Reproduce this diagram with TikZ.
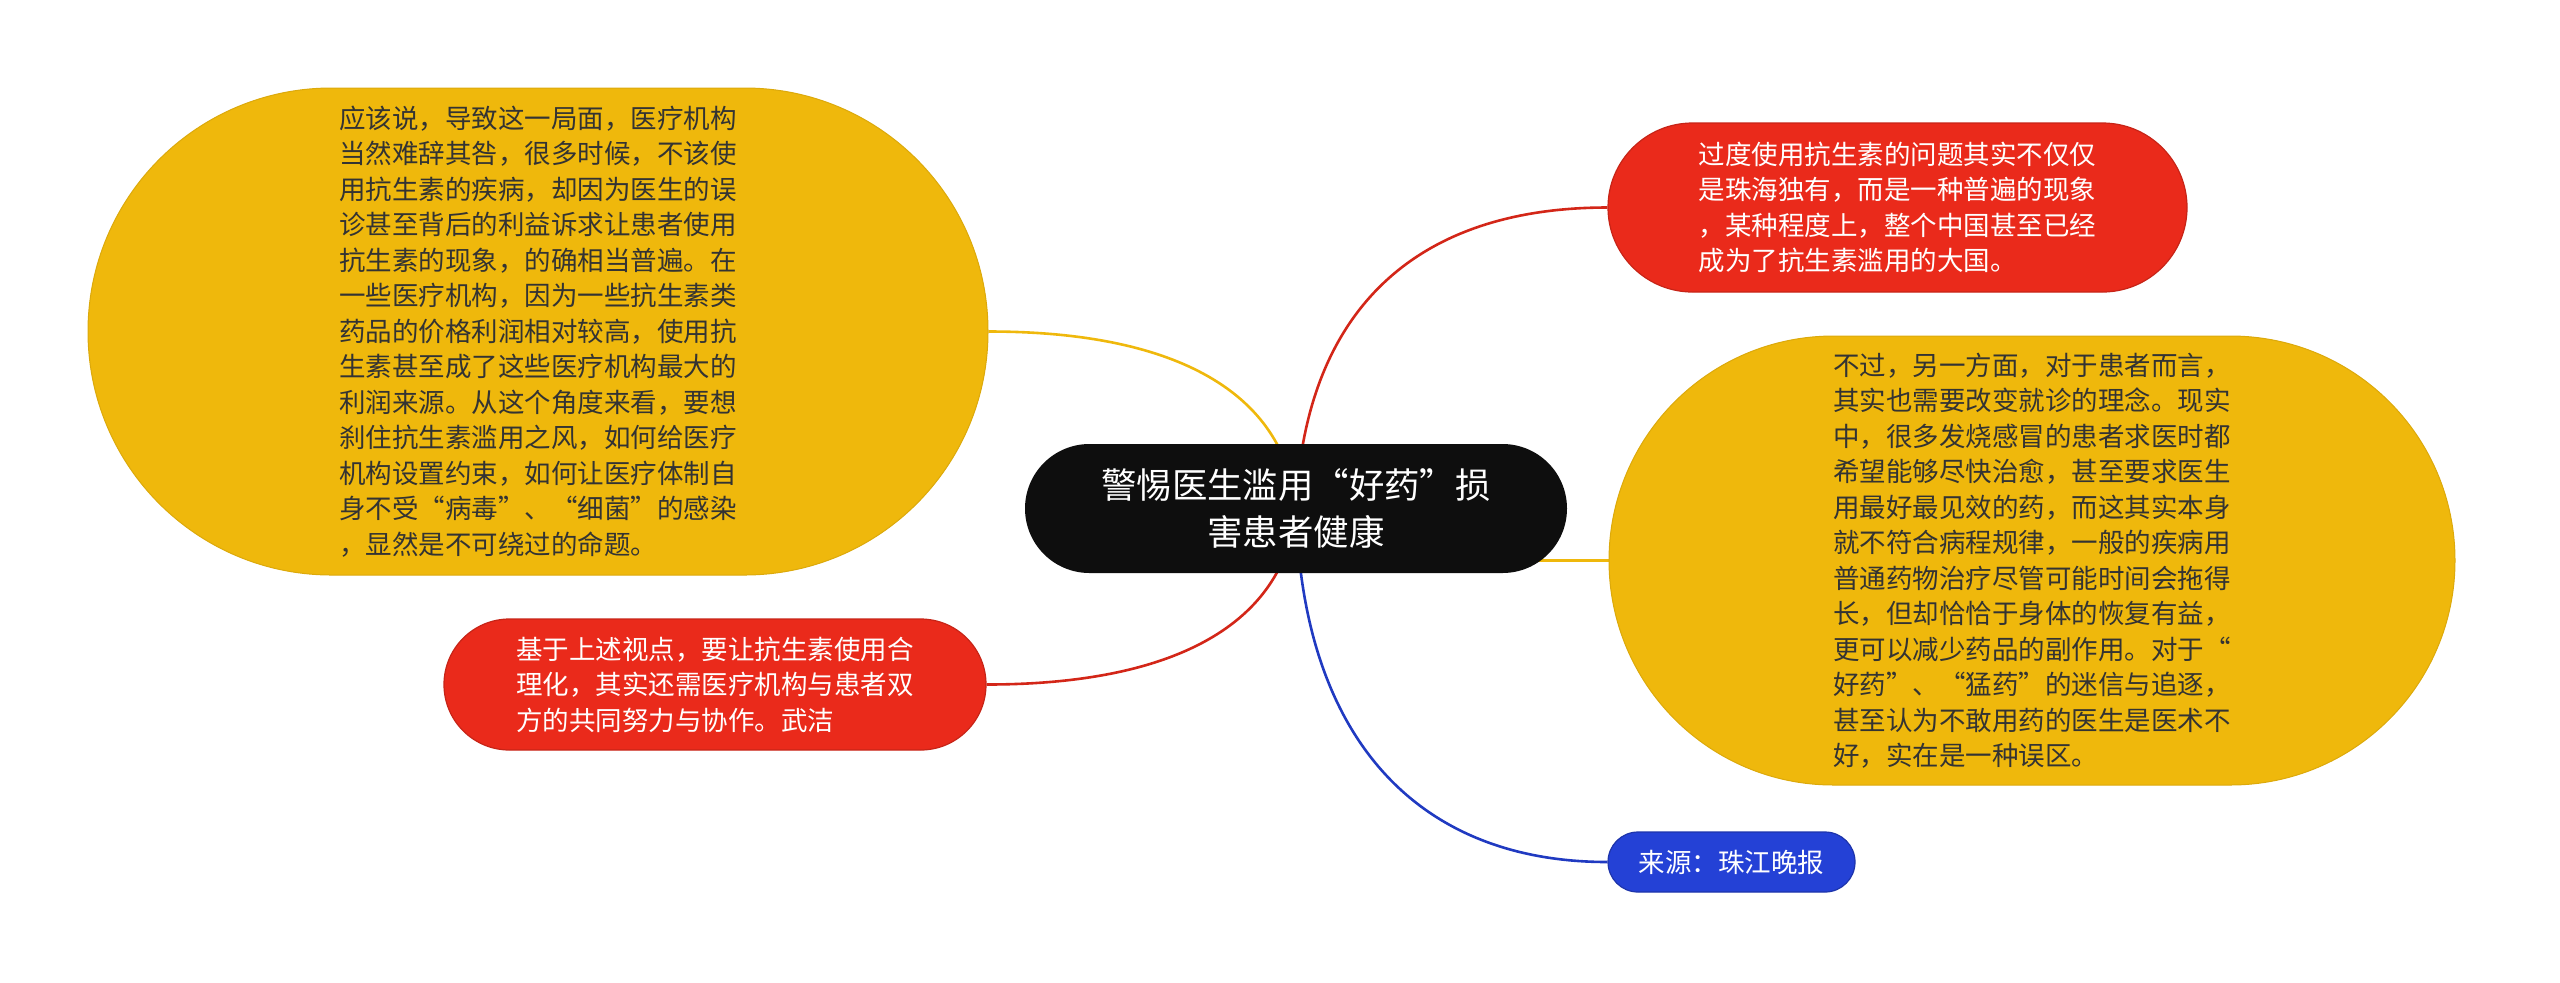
\documentclass[tikz,border=0pt]{standalone}
\usepackage{fontspec}
\newfontfamily\cjk{Noto Sans CJK SC}
\usetikzlibrary{shapes.misc,backgrounds}

\definecolor{mapyellow}{HTML}{EFB80C}
\definecolor{mapred}{HTML}{EA2A1B}
\definecolor{mapblue}{HTML}{2441D6}
\definecolor{mapblack}{HTML}{0E0E0E}
\definecolor{maptext}{HTML}{333333}

\begin{document}
\begin{tikzpicture}[x=0.5pt, y=-0.5pt]
  \tikzset{pill/.style={rounded rectangle, inner sep=0pt, align=left,
      font=\cjk\fontsize{13.25}{17.75}\selectfont}}
  \tikzset{yellowpill/.style={pill, fill=mapyellow, draw=mapyellow!92!black, line width=0.5pt,
      text=maptext, text width=199pt}}
  \tikzset{redpill/.style={pill, fill=mapred, draw=mapred!85!black, line width=0.6pt,
      text=white, text width=199pt}}
  \tikzset{link/.style={line width=1.3pt}}
  \useasboundingbox (0,0) rectangle (2560,982);

\node[rounded rectangle, fill=mapblack, text=white, align=center, inner sep=0pt,
      minimum width=271pt, minimum height=64.5pt,
      font=\cjk\fontsize{17.7}{23.5}\selectfont] (main) at (1296,508.5)
      {警惕医生滥用“好药”损\\害患者健康};

   \node[yellowpill, minimum width=450pt, minimum height=243.5pt] (yelL) at (538,331.5)
      {应该说，导致这一局面，医疗机构\\当然难辞其咎，很多时候，不该使\\用抗生素的疾病，却因为医生的误\\诊甚至背后的利益诉求让患者使用\\抗生素的现象，的确相当普遍。在\\一些医疗机构，因为一些抗生素类\\药品的价格利润相对较高，使用抗\\生素甚至成了这些医疗机构最大的\\利润来源。从这个角度来看，要想\\刹住抗生素滥用之风，如何给医疗\\机构设置约束，如何让医疗体制自\\身不受“病毒”、“细菌”的感染\\，显然是不可绕过的命题。};
   \node[redpill, minimum width=289.5pt, minimum height=84.5pt] (redT) at (1897.5,207.5)
      {过度使用抗生素的问题其实不仅仅\\是珠海独有，而是一种普遍的现象\\，某种程度上，整个中国甚至已经\\成为了抗生素滥用的大国。};
   \node[yellowpill, minimum width=423pt, minimum height=224.5pt] (yelR) at (2032,560.5)
      {不过，另一方面，对于患者而言，\\其实也需要改变就诊的理念。现实\\中，很多发烧感冒的患者求医时都\\希望能够尽快治愈，甚至要求医生\\用最好最见效的药，而这其实本身\\就不符合病程规律，一般的疾病用\\普通药物治疗尽管可能时间会拖得\\长，但却恰恰于身体的恢复有益，\\更可以减少药品的副作用。对于“\\好药”、“猛药”的迷信与追逐，\\甚至认为不敢用药的医生是医术不\\好，实在是一种误区。};
   \node[redpill, minimum width=271pt, minimum height=65.5pt] (redB) at (715,684.5)
      {基于上述视点，要让抗生素使用合\\理化，其实还需医疗机构与患者双\\方的共同努力与协作。武洁};
   \node[pill, fill=mapblue, draw=mapblue!80!black, line width=0.6pt, text=white,
      minimum width=123.5pt, minimum height=30pt] (src) at (1731.5,862) {来源：珠江晚报};

  \begin{scope}[on background layer]
   \draw[link, mapyellow] (main.center) .. controls +(-10,-108) and +(200,0) .. (yelL.east);
   \draw[link, mapred!90!black] (main.center) .. controls +(8,-190) and +(-200,0) .. (redT.west);
   \draw[link, mapyellow] (main.center |- yelR.west) -- (yelR.west);
   \draw[link, mapred!90!black] (main.center) .. controls +(-10,108) and +(200,0) .. (redB.east);
   \draw[link, mapblue!90!black] (main.center) .. controls +(6,230) and +(-190,0) .. (src.west);
  \end{scope}
\end{tikzpicture}
\end{document}
